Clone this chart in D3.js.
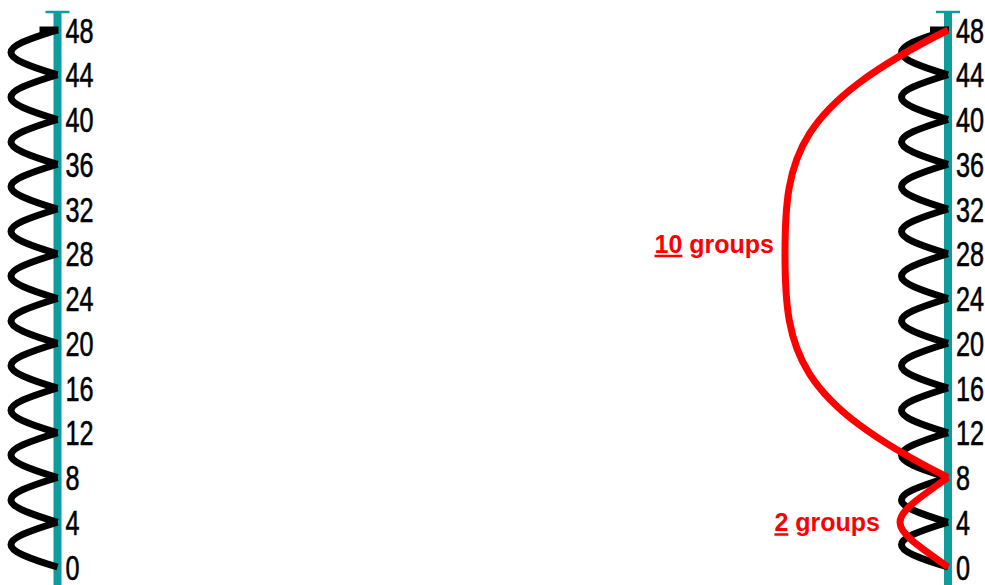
<!DOCTYPE html>
<html>
<head>
<meta charset="utf-8">
<script src="https://cdn.jsdelivr.net/npm/d3@7"></script>
<style>
  body { margin: 0; background: #fff; }
  svg { display: block; }
</style>
</head>
<body>
<svg width="985" height="585"></svg>
<script>
// number line ticks (counting in 4s)
var tickValues = [0, 4, 8, 12, 16, 20, 24, 28, 32, 36, 40, 44, 48];
var tickLabels = ["0", "4", "8", "12", "16", "20", "24", "28", "32", "36", "40", "44", "48"];

// the two number lines
var lines = ["left", "right"];

// red jumps on the right line, and their labels
var redFrom = [0, 8];
var redTo = [8, 48];
var redCounts = ["2", "10"];
var redSuffix = " groups";

var w = 985;
var h = 585;
var svg = d3.select("svg");

// x position of each number line
var xScale = d3.scalePoint()
    .domain(lines)
    .range([57.5, 948]);

// y position of the values
var yScale = d3.scaleLinear()
    .domain([0, 48])
    .range([567, 30]);

var teal = "#0E9C9C";

// simple curve bulging to the left of a number line
function bulge(x, v0, v1, c, f) {
    var y0 = yScale(v0), y1 = yScale(v1);
    var p = d3.path();
    p.moveTo(x, y0);
    p.bezierCurveTo(x - c, y0 + (y1 - y0) * f, x - c, y1 - (y1 - y0) * f, x, y1);
    return p.toString();
}

// long bracket-like curve: sloped ends, straight middle
function bracket(x, v0, v1, depth) {
    var y0 = yScale(v0), y1 = yScale(v1);
    var d = y1 - y0;
    var xl = x - depth;
    var p = d3.path();
    p.moveTo(x, y0);
    p.bezierCurveTo(x - depth * 0.93, y0 + d * 0.17, xl, y0 + d * 0.28, xl, y0 + d * 0.5);
    p.bezierCurveTo(xl, y1 - d * 0.28, x - depth * 0.93, y1 - d * 0.17, x, y1);
    return p.toString();
}

lines.forEach(function (line) {
    var x = xScale(line);
    var g = svg.append("g");

    // teal line with a cap at the top
    g.append("line")
        .attr("x1", x).attr("x2", x)
        .attr("y1", 12).attr("y2", h)
        .attr("stroke", teal)
        .attr("stroke-width", 8);
    g.append("line")
        .attr("x1", x - 12).attr("x2", x + 12)
        .attr("y1", 12).attr("y2", 12)
        .attr("stroke", teal)
        .attr("stroke-width", 2.5);

    // black jumps of 4
    var pairs = d3.pairs(tickValues);
    g.selectAll(".jump")
        .data(pairs)
        .enter()
        .append("path")
        .attr("class", "jump")
        .attr("d", function (d) { return bulge(x, d[0], d[1], 62, 0.42); })
        .attr("fill", "none")
        .attr("stroke", "#000")
        .attr("stroke-width", 7);

    // short bar at the top value
    g.append("line")
        .attr("x1", x - 18).attr("x2", x + 1)
        .attr("y1", yScale(48)).attr("y2", yScale(48))
        .attr("stroke", "#000")
        .attr("stroke-width", 7);

    // tick labels
    g.selectAll(".tickLabel")
        .data(tickValues)
        .enter()
        .append("text")
        .attr("class", "tickLabel")
        .attr("transform", function (d) {
            return "translate(" + (x + 8) + "," + yScale(d) + ") scale(0.72,1)";
        })
        .attr("dy", "0.36em")
        .attr("font-family", "'Liberation Sans', Arial, sans-serif")
        .attr("font-size", "35px")
        .attr("fill", "#000")
        .attr("stroke", "#000")
        .attr("stroke-width", 0.6)
        .text(function (d, i) { return tickLabels[i]; });
});

// red jumps on the right line
var xr = xScale("right");
var redDepth = [48, 163];
var labelGap = [20, 11];
var labelShift = [0, -10];

var red = svg.append("g");
redFrom.forEach(function (v0, i) {
    var v1 = redTo[i];
    var d = i === 0
        ? bulge(xr, v0, v1, redDepth[i] / 0.75, 0.5)
        : bracket(xr, v0, v1, redDepth[i]);
    red.append("path")
        .attr("d", d)
        .attr("fill", "none")
        .attr("stroke", "#FF0000")
        .attr("stroke-width", 7);

    var t = red.append("text")
        .attr("x", xr - redDepth[i] - labelGap[i])
        .attr("y", (yScale(v0) + yScale(v1)) / 2 + labelShift[i])
        .attr("dy", "0.36em")
        .attr("text-anchor", "end")
        .attr("font-family", "'Liberation Sans', Arial, sans-serif")
        .attr("font-weight", "bold")
        .attr("font-size", "25px")
        .attr("fill", "#FF0000");
    t.append("tspan")
        .style("text-decoration", "underline")
        .text(redCounts[i]);
    t.append("tspan").text(redSuffix);
});
</script>
</body>
</html>
